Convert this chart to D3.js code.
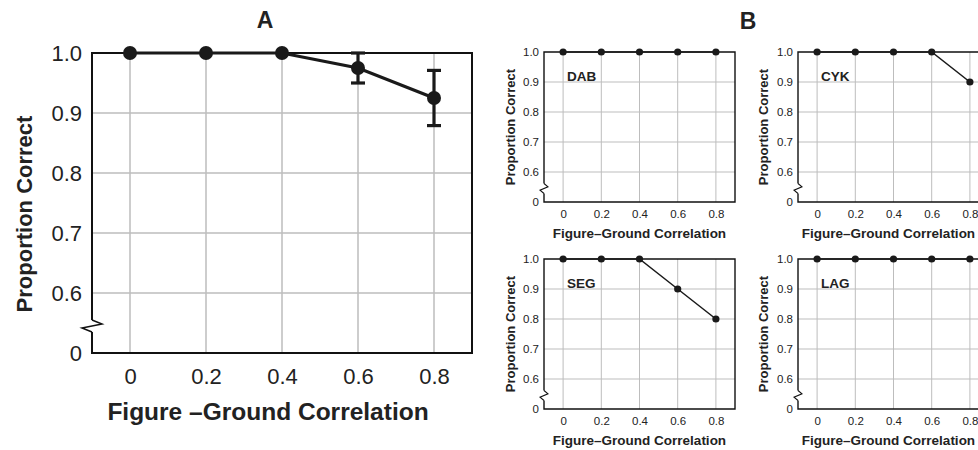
<!DOCTYPE html>
<html>
<head>
<meta charset="utf-8">
<script src="https://cdn.jsdelivr.net/npm/d3@7"></script>
<style>
  body { margin: 0; background: #fff; }
  svg { display: block; font-family: "Liberation Sans", Arial, sans-serif; }
  .tick text { fill: #222; }
</style>
</head>
<body>
<svg id="chart" width="978" height="450"></svg>
<script>
// ---- data ----
var correlations = [0, 0.2, 0.4, 0.6, 0.8];
var xTickLabels = ["0", "0.2", "0.4", "0.6", "0.8"];
var yTicks = [0.5, 0.6, 0.7, 0.8, 0.9, 1.0];          // 0.5 sits below the axis break, shown as "0"
var yTickLabels = ["0", "0.6", "0.7", "0.8", "0.9", "1.0"];

// panel A: group mean with error bars
var meanCorrect = [1.0, 1.0, 1.0, 0.975, 0.925];
var errCorrect  = [0, 0, 0, 0.025, 0.046];

// panel B: individual observers
var subjects = ["DAB", "CYK", "SEG", "LAG"];
var dabCorrect = [1.0, 1.0, 1.0, 1.0, 1.0];
var cykCorrect = [1.0, 1.0, 1.0, 1.0, 0.9];
var segCorrect = [1.0, 1.0, 1.0, 0.9, 0.8];
var lagCorrect = [1.0, 1.0, 1.0, 1.0, 1.0];
var subjectData = [dabCorrect, cykCorrect, segCorrect, lagCorrect];

var svg = d3.select("#chart");

/*
 * draws one framed panel with a broken y axis
 */
function drawPanel(box, values, errs, st) {
  var xScale = d3.scaleLinear().domain([-0.1, 0.9]).range([box.left, box.right]),
      yScale = d3.scaleLinear().domain([0.5, 1.0]).range([box.bottom, box.top]);
  var g = svg.append("g");

  // grid
  g.selectAll(".vgrid").data(correlations).enter().append("line")
    .attr("x1", function(d) { return xScale(d); })
    .attr("x2", function(d) { return xScale(d); })
    .attr("y1", yScale(1.0)).attr("y2", yScale(0.5))
    .attr("stroke", "#bdbdbd").attr("stroke-width", st.grid);
  g.selectAll(".hgrid").data(yTicks.slice(1, 5)).enter().append("line")
    .attr("x1", xScale(-0.1)).attr("x2", xScale(0.9))
    .attr("y1", function(d) { return yScale(d); })
    .attr("y2", function(d) { return yScale(d); })
    .attr("stroke", "#bdbdbd").attr("stroke-width", st.grid);

  // axes (labels only, frame drawn below)
  var xAxis = d3.axisBottom(xScale).tickValues(correlations)
    .tickFormat(function(d, i) { return xTickLabels[i]; })
    .tickSize(0).tickPadding(st.xPad);
  var yAxis = d3.axisLeft(yScale).tickValues(yTicks)
    .tickFormat(function(d, i) { return yTickLabels[i]; })
    .tickSize(0).tickPadding(st.yPad);
  g.append("g").attr("transform", "translate(0," + box.bottom + ")").call(xAxis)
    .call(function(a) { a.select(".domain").remove(); })
    .selectAll("text").attr("font-size", st.tickFont).attr("font-family", "Liberation Sans, Arial, sans-serif");
  g.append("g").attr("transform", "translate(" + box.left + ",0)").call(yAxis)
    .call(function(a) { a.select(".domain").remove(); })
    .selectAll("text").attr("font-size", st.tickFont).attr("font-family", "Liberation Sans, Arial, sans-serif");

  // frame with break on the left side
  var L = xScale(-0.1), R = xScale(0.9), T = yScale(1.0), B = yScale(0.5);
  var yb = yScale(0.545), zw = st.zigW, zh = st.zigH;
  g.append("path")
    .attr("d", "M" + L + "," + (yb - zh) + "L" + L + "," + T + "L" + R + "," + T +
      "L" + R + "," + B + "L" + L + "," + B + "L" + L + "," + (yb + zh))
    .attr("fill", "none").attr("stroke", "#111").attr("stroke-width", st.frame);
  g.append("path")
    .attr("d", "M" + L + "," + (yb - zh) + "L" + (L + zw) + "," + (yb - zh / 3) +
      "L" + (L - zw) + "," + (yb + zh / 3) + "L" + L + "," + (yb + zh))
    .attr("fill", "none").attr("stroke", "#111").attr("stroke-width", st.frame * 0.75);

  // data line
  var lineGen = d3.line()
    .x(function(d, i) { return xScale(correlations[i]); })
    .y(function(d) { return yScale(d); });
  g.append("path").attr("d", lineGen(values))
    .attr("fill", "none").attr("stroke", "#1a1a1a").attr("stroke-width", st.line);

  // error bars
  if (errs) {
    var eb = g.selectAll(".err").data(values.map(function(v, i) { return {x: correlations[i], y: v, e: errs[i]}; })
      .filter(function(d) { return d.e > 0; })).enter().append("g");
    eb.append("line")
      .attr("x1", function(d) { return xScale(d.x); }).attr("x2", function(d) { return xScale(d.x); })
      .attr("y1", function(d) { return yScale(d.y + d.e); }).attr("y2", function(d) { return yScale(d.y - d.e); })
      .attr("stroke", "#1a1a1a").attr("stroke-width", st.line);
    [1, -1].forEach(function(s) {
      eb.append("line")
        .attr("x1", function(d) { return xScale(d.x) - st.cap; }).attr("x2", function(d) { return xScale(d.x) + st.cap; })
        .attr("y1", function(d) { return yScale(d.y + s * d.e); }).attr("y2", function(d) { return yScale(d.y + s * d.e); })
        .attr("stroke", "#1a1a1a").attr("stroke-width", st.line);
    });
  }

  // markers
  g.selectAll(".dot").data(values).enter().append("circle")
    .attr("cx", function(d, i) { return xScale(correlations[i]); })
    .attr("cy", function(d) { return yScale(d); })
    .attr("r", st.dot).attr("fill", "#1a1a1a");

  // axis titles
  g.append("text")
    .attr("transform", "translate(" + st.yTitleX + "," + ((T + B) / 2 + st.yTitleShift) + ") rotate(-90)")
    .attr("text-anchor", "middle").attr("dy", "0.35em")
    .attr("font-weight", "bold").attr("font-size", st.yTitleFont).attr("fill", "#222")
    .text("Proportion Correct");
  g.append("text")
    .attr("x", (xScale(-0.1) + xScale(0.9)) / 2 - st.xTitleShift).attr("y", B + st.xTitleDy)
    .attr("text-anchor", "middle")
    .attr("font-weight", "bold").attr("font-size", st.xTitleFont).attr("fill", "#222")
    .text(st.xTitle);
  return {x: xScale, y: yScale};
}

// panel A
drawPanel({left: 92, right: 472, top: 53, bottom: 353}, meanCorrect, errCorrect,
  {grid: 1.5, frame: 2, line: 3.2, dot: 7, cap: 7, zigW: 10, zigH: 6, tickFont: 22,
   yTitleFont: 22, xTitleFont: 24.5,
   xPad: 15, yPad: 10, yTitleX: 24, yTitleShift: 11, xTitleDy: 67, xTitleShift: 14,
   xTitle: "Figure \u2013Ground Correlation"});

svg.append("text").attr("x", 265).attr("y", 28).attr("text-anchor", "middle")
  .attr("font-weight", "bold").attr("font-size", 23).attr("fill", "#222").text("A");
svg.append("text").attr("x", 748).attr("y", 29).attr("text-anchor", "middle")
  .attr("font-weight", "bold").attr("font-size", 23).attr("fill", "#222").text("B");

// panel B
var smallBoxes = [
  {left: 544, right: 735, top: 52, bottom: 202, yTitleX: 510, shift: 0},
  {left: 798, right: 989, top: 52, bottom: 202, yTitleX: 763, shift: 5},
  {left: 544, right: 735, top: 259, bottom: 409, yTitleX: 510, shift: 0},
  {left: 798, right: 989, top: 259, bottom: 409, yTitleX: 763, shift: 5}
];
subjects.forEach(function(name, k) {
  var b = smallBoxes[k];
  var sc = drawPanel(b, subjectData[k], null,
    {grid: 1, frame: 1.4, line: 1.5, dot: 3.6, cap: 0, zigW: 4, zigH: 5, tickFont: 11.5,
     yTitleFont: 13, xTitleFont: 13.5,
     xPad: 8, yPad: 5, yTitleX: b.yTitleX, yTitleShift: 0, xTitleDy: 36, xTitleShift: b.shift,
     xTitle: "Figure\u2013Ground Correlation"});
  svg.append("text").attr("x", sc.x(0) + 4).attr("y", b.top + 29)
    .attr("font-weight", "bold").attr("font-size", 13.5).attr("fill", "#222").text(name);
});
</script>
</body>
</html>
